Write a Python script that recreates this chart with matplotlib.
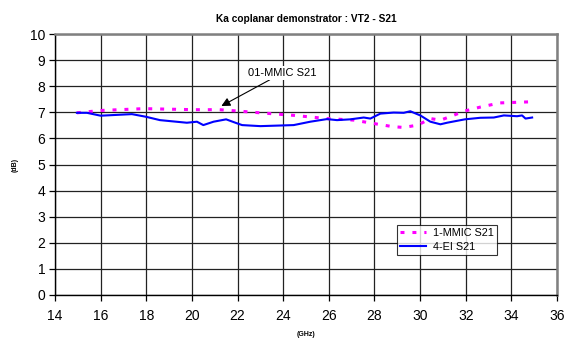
import matplotlib
matplotlib.use("Agg")
import matplotlib.pyplot as plt

plt.rcParams['font.family'] = ['Liberation Sans', 'DejaVu Sans']

title = "Ka coplanar demonstrator : VT2 - S21"
xlabel = "(GHz)"
ylabel = "(dB)"
annot_text = "01-MMIC S21"
series_names = ["1-MMIC S21", "4-EI S21"]

x_ticks = [14, 16, 18, 20, 22, 24, 26, 28, 30, 32, 34, 36]
y_ticks = [0, 1, 2, 3, 4, 5, 6, 7, 8, 9, 10]

mmic_x = [14.96, 16.0, 17.9, 20.1, 21.2, 22.0, 23.0, 24.5, 25.9, 27.1, 27.9, 28.8,
          29.28, 29.9, 30.45, 30.9, 31.3, 31.96, 32.64, 33.5, 34.8]
mmic_y = [6.98, 7.07, 7.14, 7.10, 7.10, 7.05, 6.98, 6.88, 6.76, 6.70, 6.58, 6.45,
          6.42, 6.51, 6.76, 6.70, 6.83, 7.05, 7.20, 7.36, 7.40]

ei_x = [14.96, 15.4, 16.0, 17.37, 17.98, 18.6, 19.78, 20.22, 20.5, 20.95, 21.5, 21.97,
        22.2, 23.0, 24.46, 25.19, 25.92, 26.36, 26.94, 27.53, 27.82, 28.26, 28.84,
        29.28, 29.57, 30.01, 30.45, 30.89, 31.18, 31.96, 32.64, 33.23, 33.67, 34.25,
        34.47, 34.62, 34.91]
ei_y = [6.98, 6.98, 6.87, 6.93, 6.83, 6.70, 6.60, 6.64, 6.51, 6.64, 6.73, 6.58,
        6.51, 6.47, 6.51, 6.64, 6.74, 6.70, 6.73, 6.80, 6.76, 6.95, 6.99,
        6.98, 7.04, 6.88, 6.64, 6.54, 6.60, 6.73, 6.79, 6.80, 6.88, 6.85,
        6.88, 6.76, 6.80]

fig = plt.figure(figsize=(5.71, 3.38), dpi=100)
ax = fig.add_axes([55/571, 1 - 295/338, (557-55)/571, (295-34)/338])

ax.plot(mmic_x, mmic_y, color='#ff00ff', lw=2.2, linestyle=(0, (1.3, 2.6)),
        label=series_names[0], zorder=3)
ax.plot(ei_x, ei_y, color='#0000ff', lw=1.5, label=series_names[1], zorder=4)

ax.set_xlim(14, 36)
ax.set_ylim(0, 10)
ax.set_xticks(x_ticks)
ax.set_yticks(y_ticks)
ax.grid(True, color='#222222', lw=0.9)
ax.set_axisbelow(True)
ax.tick_params(direction='out', length=4, width=0.9, labelsize=10, colors='black')
ax.tick_params(axis='x', pad=6)
ax.tick_params(axis='y', pad=3)

for s in ['left', 'bottom']:
    ax.spines[s].set_color('black')
    ax.spines[s].set_linewidth(1.0)
for s in ['right', 'top']:
    ax.spines[s].set_color('#808080')
    ax.spines[s].set_linewidth(1.8)

ax.set_title(title, fontsize=7.3, fontweight='bold', pad=9)
ax.set_xlabel(xlabel, fontsize=5, fontweight='bold', labelpad=6)
ax.set_ylabel(ylabel, fontsize=5, fontweight='bold', labelpad=8)

ax.annotate(annot_text, xy=(21.29, 7.24), xytext=(22.45, 8.5),
            fontsize=8, ha='left', va='center',
            bbox=dict(boxstyle='square,pad=0.15', fc='white', ec='none'),
            arrowprops=dict(arrowstyle='-|>', color='black', lw=0.8,
                            mutation_scale=13, shrinkA=0, shrinkB=0),
            zorder=6)

leg = ax.legend(loc='upper left', bbox_to_anchor=((397-55)/502, (295-225)/261),
                fontsize=7.8, frameon=True, fancybox=False, handlelength=2.4,
                borderpad=0.3, labelspacing=0.3, handletextpad=0.6, borderaxespad=0)
leg.get_frame().set_edgecolor('black')
leg.get_frame().set_linewidth(0.8)

fig.savefig("out.png", dpi=100)
